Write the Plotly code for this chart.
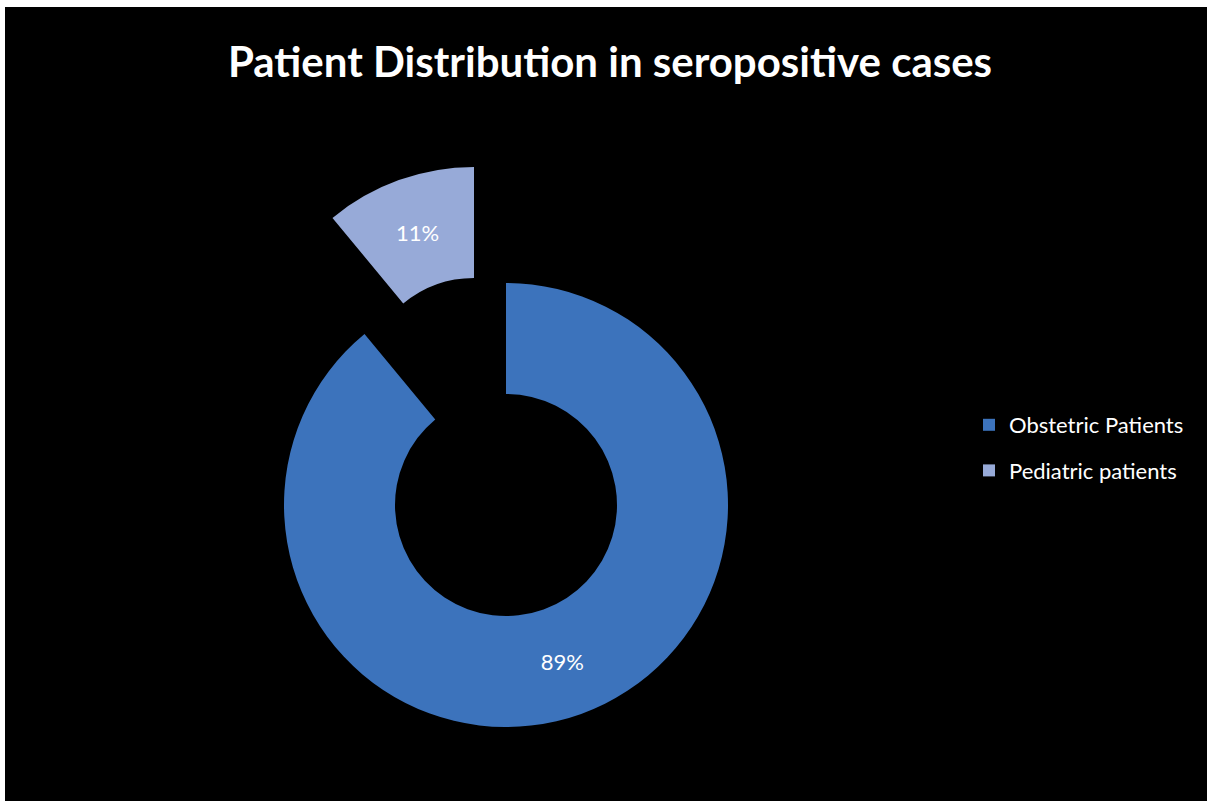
import plotly.graph_objects as go

# data
labels = ["Obstetric Patients", "Pediatric patients"]
values = [89, 11]
colors = ["#3C73BC", "#97AAD8"]

W, H = 1207, 801
R = 222            # donut radius in px
HOLE = 0.5


def domain(cx, cy, r=R):
    return dict(x=[(cx - r) / W, (cx + r) / W],
                y=[1 - (cy + r) / H, 1 - (cy - r) / H])


clear = "rgba(0,0,0,0)"
fig = go.Figure()

# legend-only entries: tiny pies hidden beneath the real slices,
# one legend group each so the gap between items can be set
hide_at = [(700, 503), (440, 205)]
for i in range(len(labels)):
    fig.add_trace(go.Pie(
        labels=[labels[i]], values=[values[i]],
        marker=dict(colors=[colors[i]]),
        domain=domain(*hide_at[i], r=1),
        textinfo="none", hoverinfo="skip",
        legendgroup=f"g{i}", showlegend=True, sort=False,
    ))

# main ring (obstetric slice)
fig.add_trace(go.Pie(
    labels=labels, values=values, hole=HOLE,
    marker=dict(colors=[colors[0], clear], line=dict(width=0)),
    direction="clockwise", rotation=0, sort=False,
    texttemplate=["%{percent}", ""], textposition="inside",
    insidetextorientation="horizontal",
    textfont=dict(family="Lato", size=22, color="white"),
    domain=domain(506, 505), showlegend=False,
))

# exploded slice (pediatric)
fig.add_trace(go.Pie(
    labels=labels, values=values, hole=HOLE,
    marker=dict(colors=[clear, colors[1]], line=dict(width=0)),
    direction="clockwise", rotation=0, sort=False,
    texttemplate=["", "%{percent}"], textposition="inside",
    insidetextorientation="horizontal",
    textfont=dict(family="Lato", size=22, color="white"),
    domain=domain(474, 389), showlegend=False,
))

fig.update_layout(
    width=W, height=H,
    paper_bgcolor="black", plot_bgcolor="black",
    margin=dict(l=0, r=0, t=0, b=0),
    title=dict(text="<b>Patient Distribution in seropositive cases</b>",
               x=610 / W, xanchor="center", y=1 - 62 / H, yanchor="middle",
               yref="container",
               font=dict(family="Lato", size=42, color="white")),
    legend=dict(x=969 / W, xanchor="left", y=1 - 448 / H, yanchor="middle",
                traceorder="grouped", tracegroupgap=14,
                font=dict(family="Lato", size=22, color="white"),
                bgcolor=clear),
    shapes=[
        dict(type="rect", xref="paper", yref="paper", x0=0, x1=1, y0=1 - 7 / H, y1=1,
             fillcolor="white", line=dict(width=0)),
        dict(type="rect", xref="paper", yref="paper", x0=0, x1=5 / W, y0=0, y1=1,
             fillcolor="white", line=dict(width=0)),
    ],
)

fig.write_html("out.html", config={"displayModeBar": False},
               post_script="document.body.style.margin = '0';")
